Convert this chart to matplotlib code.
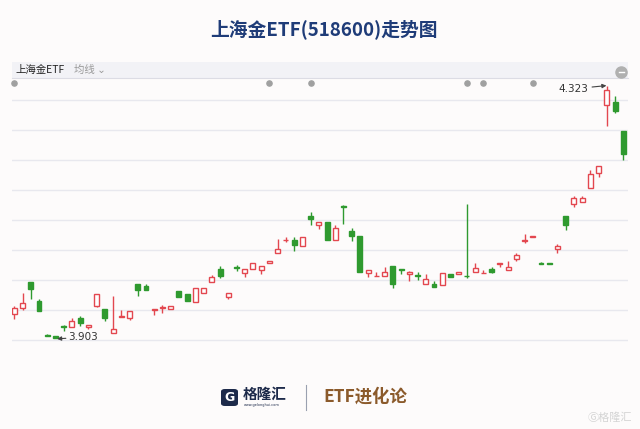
import matplotlib.pyplot as plt
from matplotlib.patches import Rectangle, FancyBboxPatch

plt.rcParams['font.family'] = ['Noto Sans CJK SC', 'DejaVu Sans']

# daily candles (open, close, high, low)
opens = [3.943, 3.953, 3.996, 3.965, 3.908, 3.906, 3.924, 3.922, 3.936, 3.922,
         3.956, 3.952, 3.911, 3.939, 3.937, 3.993, 3.990, 3.950, 3.954, 3.951,
         3.982, 3.977, 3.964, 3.978, 3.996, 4.018, 3.972, 4.021, 4.012, 4.018,
         4.017, 4.028, 4.045, 4.066, 4.067, 4.056, 4.107, 4.091, 4.097, 4.066,
         4.123, 4.082, 4.074, 4.011, 4.006, 4.007, 4.024, 4.018, 4.010, 4.008,
         3.993, 3.993, 3.992, 4.010, 4.010, 4.007, 4.013, 4.011, 4.018, 4.027,
         4.016, 4.035, 4.065, 4.072, 4.029, 4.028, 4.051, 4.106, 4.126, 4.130,
         4.153, 4.178, 4.291, 4.296, 4.249]
closes = [3.953, 3.961, 3.985, 3.948, 3.907, 3.904, 3.921, 3.932, 3.928, 3.925,
          3.976, 3.936, 3.918, 3.940, 3.948, 3.983, 3.983, 3.951, 3.955, 3.957,
          3.971, 3.965, 3.987, 3.986, 4.005, 4.007, 3.978, 4.020, 4.018, 4.028,
          4.023, 4.031, 4.051, 4.067, 4.058, 4.072, 4.102, 4.097, 4.066, 4.086,
          4.122, 4.074, 4.014, 4.017, 4.007, 4.014, 3.993, 4.017, 4.013, 4.007,
          4.002, 3.988, 4.011, 4.005, 4.013, 4.006, 4.020, 4.012, 4.014, 4.028,
          4.021, 4.042, 4.066, 4.073, 4.026, 4.027, 4.056, 4.091, 4.137, 4.136,
          4.176, 4.190, 4.317, 4.282, 4.210]
highs = [3.957, 3.978, 3.997, 3.968, 3.910, 3.907, 3.925, 3.937, 3.940, 3.925,
         3.977, 3.952, 3.974, 3.950, 3.948, 3.993, 3.993, 3.951, 3.958, 3.957,
         3.982, 3.977, 3.987, 3.986, 4.008, 4.023, 3.978, 4.025, 4.018, 4.028,
         4.023, 4.031, 4.068, 4.072, 4.072, 4.072, 4.113, 4.097, 4.097, 4.091,
         4.125, 4.086, 4.074, 4.017, 4.014, 4.021, 4.024, 4.018, 4.015, 4.014,
         4.010, 3.998, 4.011, 4.010, 4.013, 4.126, 4.029, 4.017, 4.022, 4.028,
         4.031, 4.045, 4.076, 4.073, 4.030, 4.028, 4.060, 4.106, 4.140, 4.140,
         4.183, 4.190, 4.323, 4.307, 4.249]
lows = [3.935, 3.950, 3.968, 3.948, 3.906, 3.903, 3.915, 3.922, 3.923, 3.918,
        3.955, 3.932, 3.911, 3.939, 3.933, 3.974, 3.983, 3.942, 3.945, 3.951,
        3.971, 3.965, 3.964, 3.978, 3.996, 4.003, 3.968, 4.015, 4.005, 4.018,
        4.010, 4.028, 4.045, 4.063, 4.048, 4.056, 4.092, 4.085, 4.066, 4.066,
        4.093, 4.065, 4.014, 4.005, 4.006, 4.007, 3.987, 4.010, 3.998, 4.000,
        3.993, 3.988, 3.992, 4.005, 4.010, 4.003, 4.013, 4.011, 4.011, 4.021,
        4.016, 4.031, 4.061, 4.072, 4.026, 4.027, 4.045, 4.083, 4.121, 4.130,
        4.153, 4.171, 4.256, 4.278, 4.200]
# event markers (candle index)
markers = [0, 31, 36, 55, 57, 63]
low_idx, low_val = 5, 3.903
high_idx, high_val = 72, 4.323
grid_levels = [3.90, 3.95, 4.00, 4.05, 4.10, 4.15, 4.20, 4.25, 4.30]

red = '#e3474f'
green = '#2f9a2f'
bg = '#fdfbfb'

fig = plt.figure(figsize=(6.4, 4.29), dpi=100, facecolor=bg)

fig.text(0.506, 0.933, '上海金ETF(518600)走势图', ha='center', va='center',
         fontsize=13.5, fontweight='bold', color='#1f3c78')

# header bar
fig.patches.append(Rectangle((12 / 640, 1 - 78 / 429), 616 / 640, 16 / 429,
                             transform=fig.transFigure, facecolor='#f2f2f6',
                             edgecolor='none'))
fig.lines.append(plt.Line2D([12 / 640, 628 / 640], [1 - 78 / 429] * 2,
                            transform=fig.transFigure, color='#dcdce4', lw=0.8))
fig.text(15 / 640, 1 - 70 / 429, '上海金ETF', fontsize=7.5, color='#222222', va='center')
fig.text(74 / 640, 1 - 70 / 429, '均线 ⌄', fontsize=7.5, color='#9a9a9a', va='center')
fig.lines.append(plt.Line2D([621 / 640], [1 - 72 / 429], marker='o', markersize=8,
                            color='#b0b0b0', transform=fig.transFigure))
fig.lines.append(plt.Line2D([618.5 / 640, 623.5 / 640], [1 - 72 / 429] * 2,
                            transform=fig.transFigure, color='white', lw=1))

ax = fig.add_axes([12 / 640, 1 - 345 / 429, 616 / 640, 267 / 429])
ax.set_facecolor(bg)
for s in ax.spines.values():
    s.set_visible(False)
ax.set_xticks([])
ax.set_yticks([])
ax.set_xlim(-0.28, 74.57)
ax.set_ylim(3.9 - 5 / 600, 3.9 + 262 / 600)

for g in grid_levels:
    ax.axhline(g, color='#e8e8ee', lw=1, zorder=0)

w = 0.6
for i in range(len(opens)):
    o, c, h, l = opens[i], closes[i], highs[i], lows[i]
    up = c >= o
    col = red if up else green
    ax.vlines(i, l, h, color=col, lw=1, zorder=1)
    bottom = min(o, c)
    height = max(abs(c - o), 0.0012)
    ax.add_patch(Rectangle((i - w / 2, bottom), w, height,
                           facecolor='white' if up else col, edgecolor=col,
                           lw=1, zorder=2))

ax.scatter(markers, [3.9 + 257 / 600] * len(markers), s=14, color='#a0a0a0',
           zorder=3, clip_on=False)

ax.annotate(f'{low_val:.3f}', xy=(low_idx + 0.2, low_val - 0.001),
            xytext=(low_idx + 1.6, low_val + 0.0015), fontsize=7.5, color='#333333',
            va='center', family='DejaVu Sans',
            arrowprops=dict(arrowstyle='-|>', color='#444444', lw=0.8,
                            mutation_scale=6, shrinkA=0, shrinkB=0))
ax.annotate(f'{high_val:.3f}', xy=(high_idx - 0.05, high_val + 0.001),
            xytext=(high_idx - 2.3, high_val - 0.0045), fontsize=7.5, color='#333333',
            ha='right', va='center', family='DejaVu Sans',
            arrowprops=dict(arrowstyle='-|>', color='#444444', lw=0.8,
                            mutation_scale=6, shrinkA=1, shrinkB=0))

# footer branding
fig.patches.append(FancyBboxPatch((221 / 640, 1 - 406 / 429), 17 / 640, 17 / 429,
                                  boxstyle='round,pad=0,rounding_size=0.006',
                                  transform=fig.transFigure, facecolor='#1d2a4a',
                                  edgecolor='none'))
fig.text(229.5 / 640, 1 - 397.5 / 429, 'G', fontsize=9, fontweight='bold',
         color='white', ha='center', va='center', family='DejaVu Sans')
fig.text(243 / 640, 1 - 394 / 429, '格隆汇', fontsize=10.5, fontweight='bold',
         color='#1d2a4a', va='center')
fig.text(244 / 640, 1 - 405 / 429, 'www.gelonghui.com', fontsize=2.5,
         color='#1d2a4a', va='center', family='DejaVu Sans')
fig.lines.append(plt.Line2D([306 / 640] * 2, [1 - 385 / 429, 1 - 410 / 429],
                            transform=fig.transFigure, color='#9aa0b0', lw=0.8))
fig.text(323 / 640, 1 - 397 / 429, 'ETF进化论', fontsize=12.5, fontweight='bold',
         color='#8b5a2b', va='center')
fig.text(632 / 640, 1 - 418 / 429, 'Ⓖ格隆汇', fontsize=8, color='#d4d4d4',
         ha='right', va='center', family=['Noto Sans CJK SC', 'DejaVu Sans'])

fig.savefig('out.png', dpi=100, facecolor=bg)
